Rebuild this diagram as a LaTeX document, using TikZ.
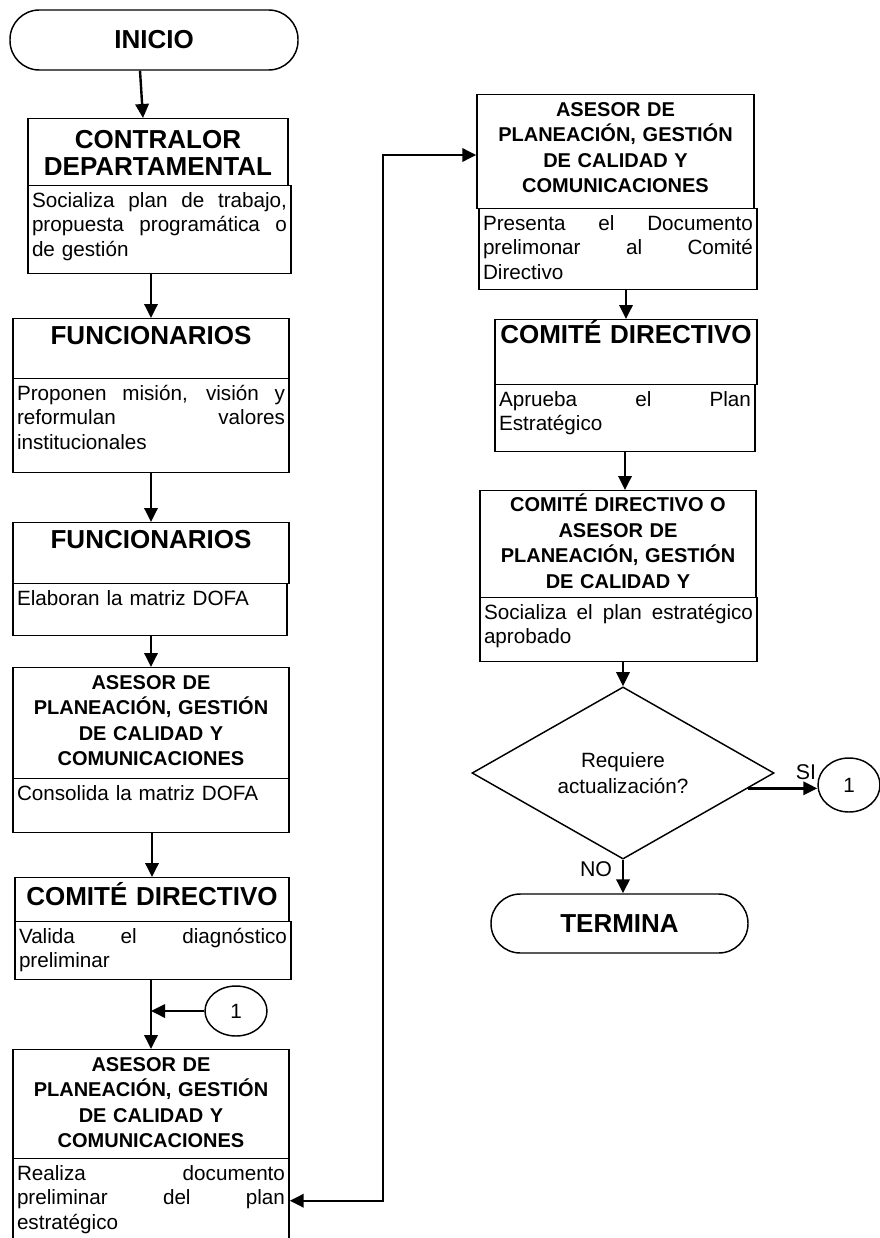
\documentclass[tikz,border=0pt]{standalone}
\usepackage{fontspec}
\setmainfont{Liberation Sans}
\usepackage{tikz}
\usetikzlibrary{arrows.meta,shapes.geometric}

\newcommand{\jl}[1]{\leavevmode\hbox to\hsize{\spaceskip=0.278em plus 1fil\relax #1}}

\begin{document}
\begin{tikzpicture}[x=0.75pt,y=0.75pt,yscale=-1,xscale=1,
  >={Triangle[length=10.5pt,width=10pt]},
  term/.style={draw,line width=1.1pt,rounded corners=22pt,inner sep=0pt,font=\bfseries\fontsize{19.5}{21}\selectfont},
  hdr/.style={draw,line width=1.1pt,anchor=north,align=center,inner xsep=2pt,inner ysep=3pt,text height=16pt,font=\bfseries\fontsize{19.5}{20.25}\selectfont},
  shdr/.style={hdr,text height=13pt,font=\bfseries\fontsize{15}{19.2}\selectfont},
  body/.style={draw,line width=1.1pt,anchor=north,align=left,inner xsep=3pt,inner ysep=3pt,text height=13pt,font=\fontsize{15.5}{18.4}\selectfont},
  con/.style={draw,line width=1.1pt,ellipse,inner sep=0pt,minimum width=46.5pt,minimum height=37.5pt,font=\fontsize{15.5}{18}\selectfont},
  lbl/.style={inner sep=0pt,font=\fontsize{16}{18}\selectfont},
  arr/.style={line width=1.8pt,->}]
\useasboundingbox (0,0) rectangle (879,1238);

% Terminal
\node[term,minimum width=216pt,minimum height=45pt] (inicio) at (154,40) {INICIO};

% Left column
\node[hdr,text width=191pt,text height=19.5pt,text depth=24.75pt] (contr) at (158,118) {CONTRALOR\\DEPARTAMENTAL};
\node[body,text width=191.25pt,text depth=47pt] (contrtxt) at (159.5,185) {\jl{Socializa plan de trabajo,}\\\jl{propuesta programática o}\\de gestión};

\node[hdr,text width=203pt,text depth=23pt] (fun1) at (151,318) {FUNCIONARIOS};
\node[body,text width=201pt,text depth=51.5pt] (fun1txt) at (151,378) {\jl{Proponen misión, visión y}\\\jl{reformulan valores}\\institucionales};

\node[hdr,text width=203pt,text depth=23.75pt] (fun2) at (151,522) {FUNCIONARIOS};
\node[body,text width=199.5pt,text depth=20pt] (fun2txt) at (150,583) {Elaboran la matriz DOFA};

\node[shdr,text width=203pt,text depth=64.25pt] (ase1) at (151,667) {ASESOR DE\\PLANEACIÓN, GESTIÓN\\DE CALIDAD Y\\COMUNICACIONES};
\node[body,text width=201pt,text depth=21.5pt] (ase1txt) at (151,778) {Consolida la matriz DOFA};

\node[hdr,text width=201.5pt,text height=18pt,text depth=9pt] (com1) at (152,877) {COMITÉ DIRECTIVO};
\node[body,text width=201pt,text depth=24.5pt] (com1txt) at (153,921) {\jl{Valida el diagnóstico}\\preliminar};

\node[con] (c1) at (236,1011) {1};

\node[shdr,text width=203pt,text depth=62.75pt] (ase2) at (151,1049) {ASESOR DE\\PLANEACIÓN, GESTIÓN\\DE CALIDAD Y\\COMUNICACIONES};
\node[body,text width=201pt,text depth=44pt] (ase2txt) at (151,1158) {\jl{Realiza documento}\\\jl{preliminar del plan}\\estratégico};

% Right column
\node[shdr,text width=203.75pt,text depth=66.5pt] (ase3) at (615.5,94) {ASESOR DE\\PLANEACIÓN, GESTIÓN\\DE CALIDAD Y\\COMUNICACIONES};
\node[body,text width=202.5pt,text depth=41.75pt] (ase3txt) at (618,208) {\jl{Presenta el Documento}\\\jl{prelimonar al Comité}\\Directivo};

\node[hdr,text width=192.5pt,text height=15pt,text depth=27.75pt] (com2) at (626,319) {COMITÉ DIRECTIVO};
\node[body,text width=189pt,text depth=31.25pt] (com2txt) at (625,384) {\jl{Aprueba el Plan}\\Estratégico};

\node[shdr,text width=203pt,text height=12.5pt,text depth=61.75pt] (com3) at (618,490) {COMITÉ DIRECTIVO O\\ASESOR DE\\PLANEACIÓN, GESTIÓN\\DE CALIDAD Y};
\node[body,text width=201.75pt,text depth=29pt] (com3txt) at (618.5,597) {\jl{Socializa el plan estratégico}\\aprobado};

% Decision
\node[draw,line width=1.1pt,diamond,inner sep=0pt,minimum width=226.5pt,minimum height=99pt,align=center,font=\fontsize{15.5}{19.5}\selectfont] (dec) at (623,773) {Requiere\\actualización?};
\node[con,minimum height=40.5pt] (c2) at (849,785) {1};
\node[lbl] (si) at (806,772) {SI};
\node[lbl] (no) at (596,869) {NO};

\node[term,minimum width=192.75pt,minimum height=44.25pt] (termina) at (619.5,923.5) {TERMINA};

% Connectors
\draw[arr] ([xshift=-10.5pt]inicio.south) -- ([xshift=-11.25pt]contr.north);
\draw[arr] (contrtxt.south -| fun1.north) -- (fun1.north);
\draw[arr] (fun1txt.south) -- (fun2.north);
\draw[arr] (fun2txt.south -| ase1.north) -- (ase1.north);
\draw[arr] (ase1txt.south -| com1.north) -- (com1.north);
\draw[arr] (com1txt.south -| ase2.north) -- (ase2.north);
\draw[arr] (c1.west) -- (c1.west -| ase2.north);

\coordinate (loop) at (383,155);
\draw[line width=1.8pt,<->] (ase2txt.east) -| (loop) -- (loop -| ase3.west);

\draw[arr] (ase3txt.south -| com2.north) -- (com2.north);
\draw[arr] (com2txt.south) -- (com2txt.south |- com3.north);
\draw[arr] (com3txt.south -| dec.north) -- (dec.north);
\draw[arr] (dec.-7) -- (dec.-7 -| c2.west);
\draw[arr] (dec.south) -- (dec.south |- termina.north);

\end{tikzpicture}
\end{document}
